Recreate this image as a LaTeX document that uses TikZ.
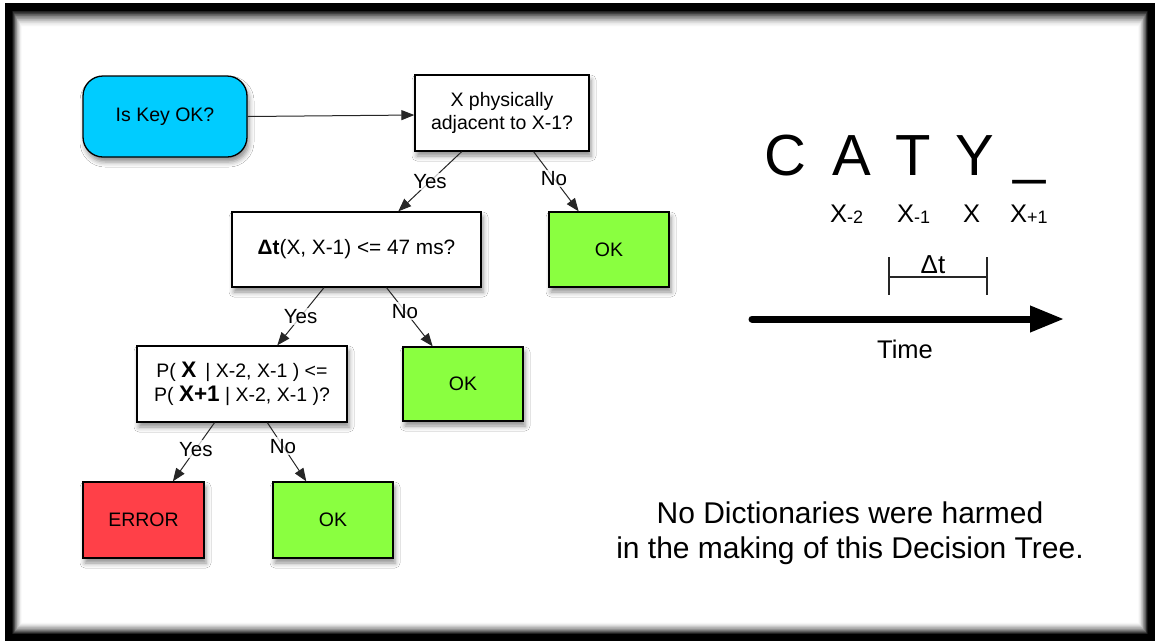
\documentclass[tikz,border=0pt]{standalone}
\usepackage{fontspec}
\setmainfont{Liberation Sans}
\usetikzlibrary{arrows.meta,calc,shadows.blur}
\definecolor{keycyan}{RGB}{0,204,255}
\definecolor{okgreen}{RGB}{138,255,64}
\definecolor{errred}{RGB}{255,64,72}
\tikzset{
  shad/.style={blur shadow={shadow xshift=2pt,shadow yshift=-5pt,shadow blur radius=5pt,shadow opacity=45}},
  box/.style={draw=black,line width=1.3pt,shad,inner sep=2pt,align=center,font=\fontsize{19.5}{23.5}\selectfont},
  qbox/.style={box,fill=white},
  okbox/.style={box,fill=okgreen,minimum width=120pt,minimum height=75pt},
  conn/.style={line width=1pt,draw=black!85,-{Triangle[length=13pt,width=10pt]}},
  lbl/.style={fill=white,fill opacity=0.75,text opacity=1,inner sep=1.5pt,font=\fontsize{20.5}{20.5}\selectfont},
}
\begin{document}
\begin{tikzpicture}[x=1pt,y=-1pt]
\useasboundingbox (0,0) rectangle (1155,641);
\fill[white] (0,0) rectangle (1155,641);
% frame
\fill[black] (5,3) rectangle (1155,641);
\foreach \i in {0,...,24}{
  \pgfmathsetmacro\t{\i/24}
  \pgfmathsetmacro\xa{12+10*\t}
  \pgfmathsetmacro\ya{10+17*\t}
  \pgfmathsetmacro\xb{1148-10*\t}
  \pgfmathsetmacro\yb{635-13*\t}
  \pgfmathsetmacro\c{100*(1-\t)^1.6}
  \fill[black!\c!white] (\xa,\ya) rectangle (\xb,\yb);
}
% nodes
\node[box,fill=keycyan,rounded corners=20pt,minimum width=164pt,minimum height=81pt] (key) at (165,116.5) {Is Key OK?};
\node[qbox,minimum width=174pt,minimum height=76pt] (adj) at (502,113) {X physically\\adjacent to X-1?};
\node[qbox,minimum width=249pt,minimum height=75pt,font=\fontsize{20.8}{24}\selectfont] (dt) at (356.5,249.5) {\textbf{Δt}(X, X-1) <= 47 ms?};
\node[okbox] (ok1) at (609,249.5) {OK};
\node[qbox,minimum width=210pt,minimum height=76pt,font=\fontsize{19.5}{24}\selectfont] (pb) at (242,384)
  {P( {\fontsize{22.5}{22.5}\selectfont\textbf{X}}\hspace{9pt}| X-2, X-1 ) <=\\
   P( {\fontsize{22.5}{22.5}\selectfont\textbf{X+1}} | X-2, X-1 )?};
\node[okbox,minimum height=74pt] (ok2) at (463,384) {OK};
\node[box,fill=errred,minimum width=121pt,minimum height=76pt] (err) at (143.5,520) {ERROR};
\node[okbox,minimum height=76pt] (ok3) at (333,520) {OK};
% connectors
\draw[conn] (key.east) -- ($(adj.north west)!0.526!(adj.south west)$);
\draw[conn] ($(adj.south west)!0.27!(adj.south east)$) -- node[lbl,pos=0.5]{Yes} ($(dt.north west)!0.667!(dt.north east)$);
\draw[conn] ($(adj.south west)!0.68!(adj.south east)$) -- node[lbl,pos=0.45]{No} ($(ok1.north west)!0.25!(ok1.north east)$);
\draw[conn] ($(dt.south west)!0.37!(dt.south east)$) -- node[lbl,pos=0.5]{Yes} ($(pb.north west)!0.667!(pb.north east)$);
\draw[conn] ($(dt.south west)!0.62!(dt.south east)$) -- node[lbl,pos=0.4]{No} ($(ok2.north west)!0.25!(ok2.north east)$);
\draw[conn] ($(pb.south west)!0.37!(pb.south east)$) -- node[lbl,pos=0.45]{Yes} ($(err.north west)!0.74!(err.north east)$);
\draw[conn] ($(pb.south west)!0.62!(pb.south east)$) -- node[lbl,pos=0.4]{No} ($(ok3.north west)!0.28!(ok3.north east)$);
% right side
\tikzset{big/.style={anchor=base,inner sep=0pt,font=\fontsize{58}{58}\selectfont}}
\node[big] (lc) at (785,175) {C};
\node[big] (la) at (852,175) {A};
\node[big] (lt) at (913.5,175) {T};
\node[big] (ly) at (975,175) {Y};
\node[big] (lu) at (1030,172) {\_};
\tikzset{xl/.style={anchor=base west,inner sep=0pt,font=\fontsize{25.5}{25.5}\selectfont}}
\newcommand{\subx}[1]{\raisebox{-1pt}{\fontsize{18}{18}\selectfont #1}}
\node[xl] (x2) at (830,222) {X\subx{-2}};
\node[xl] (x1) at (897,222) {X\subx{-1}};
\node[xl] (x0) at (963,222) {X};
\node[xl] (xp) at (1010,222) {X\subx{+1}};
\node[anchor=base,inner sep=0pt,font=\fontsize{26}{26}\selectfont] (dtl) at (933,273) {Δt};
\coordinate (b1) at (889,257);
\coordinate (b2) at (987,257);
\draw[line width=1.4pt,black!85] (b1) -- ++(0,38) (b2) -- ++(0,38);
\draw[line width=1.2pt,black!85] ($(b1)+(0,20)$) -- ($(b2)+(0,20)$);
\coordinate (ts) at (752,319);
\coordinate (te) at (1064,319);
\draw[line width=7pt,line cap=round,-{Triangle[length=34pt,width=25pt]}] (ts) -- (te);
\node[anchor=base,inner sep=0pt,font=\fontsize{25.5}{25.5}\selectfont] (time) at (905,358) {Time};
\node[anchor=base,inner sep=0pt,font=\fontsize{30}{30}\selectfont] (n1) at (850,523) {No Dictionaries were harmed};
\node[anchor=base,inner sep=0pt,font=\fontsize{30}{30}\selectfont] (n2) at (850,558) {in the making of this Decision Tree.};
\end{tikzpicture}
\end{document}
